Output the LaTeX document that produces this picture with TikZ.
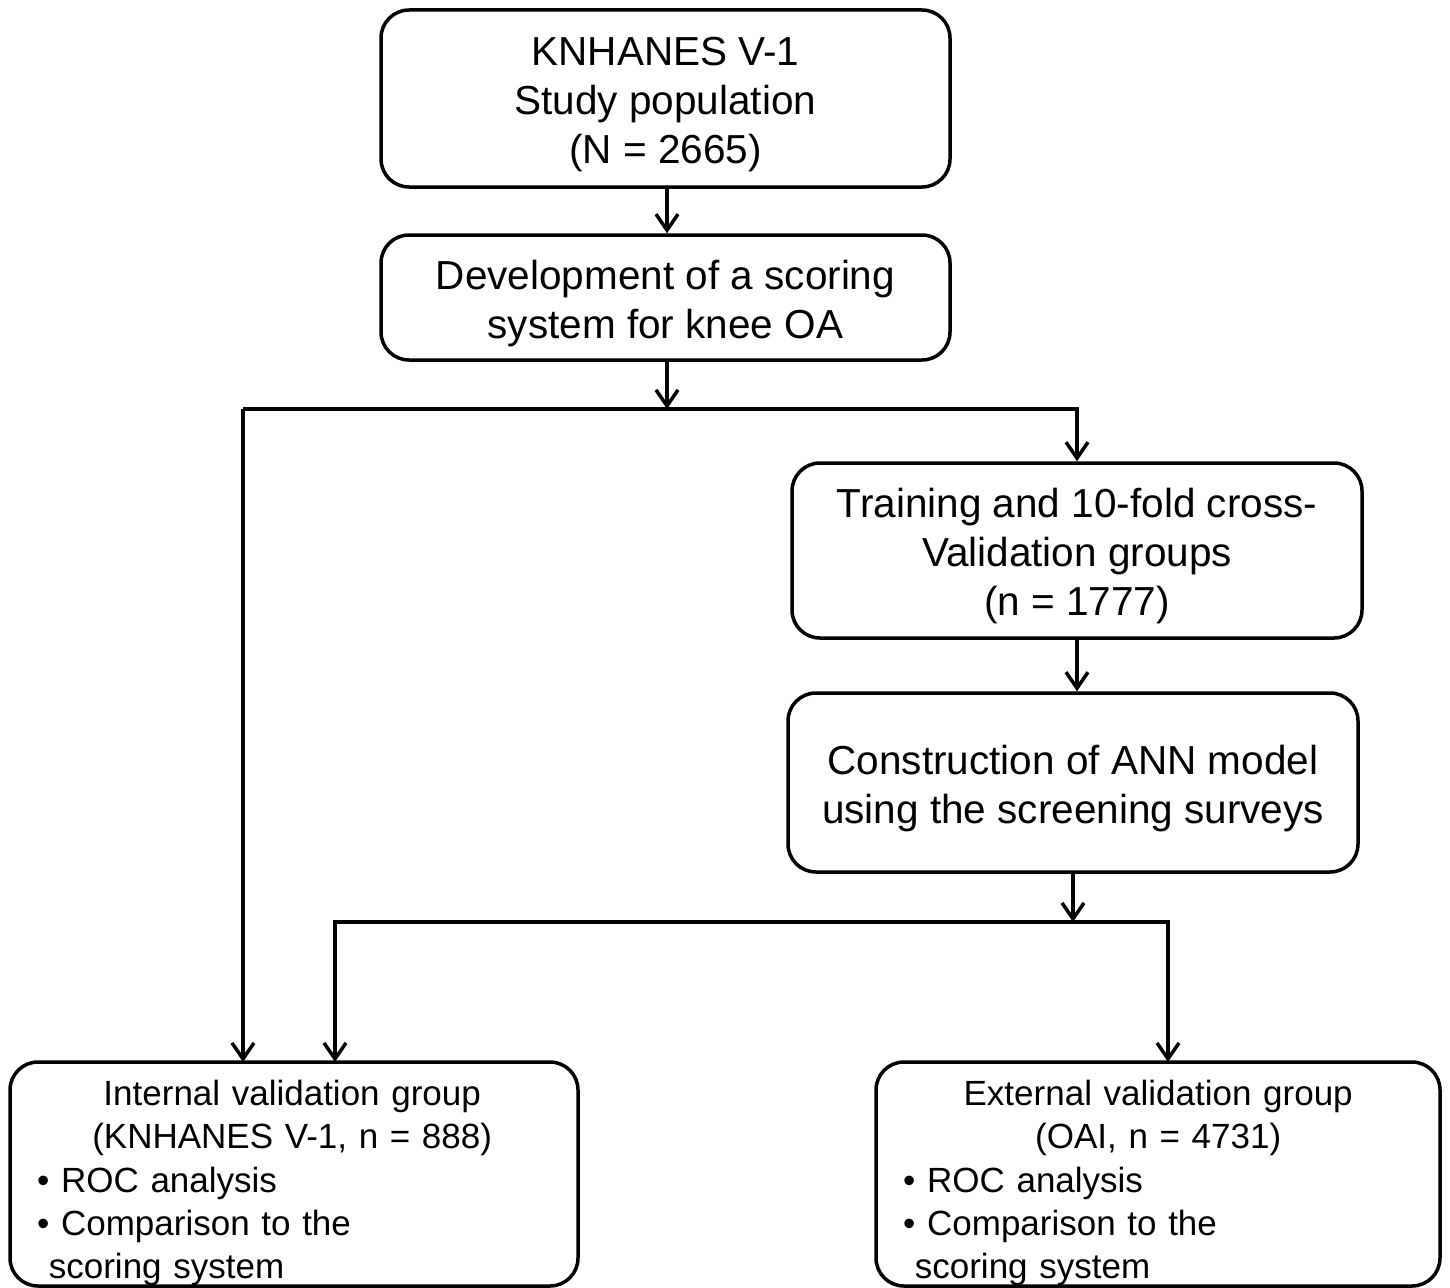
\documentclass[tikz,border=0pt]{standalone}
\usepackage{fontspec}
\setmainfont{Liberation Sans}
\usetikzlibrary{arrows.meta}
\begin{document}
\begin{tikzpicture}[x=1pt,y=-1pt,
  box/.style={draw, line width=3.5pt, rounded corners=28pt, inner sep=0pt},
  ttext/.style={inner sep=0pt, align=center, yshift=-6pt,
    font=\fontsize{40.5}{49}\selectfont},
  btext/.style={font=\fontsize{35}{43.3}\selectfont, anchor=north west, inner sep=0pt,
    text width=510pt, align=left},
  arr/.style={line width=3.5pt, -{Straight Barb[length=16pt,width=22pt,line width=3.5pt]}},
  ln/.style={line width=3.5pt}]
\useasboundingbox (0,0) rectangle (1450,1287);
\node[box, minimum width=569pt, minimum height=177pt] (b1) at (665.5,98.5) {};
\node[ttext] (b1t) at (b1.center) {KNHANES V-1\\Study population\\(N = 2665)};
\node[box, minimum width=569pt, minimum height=125pt] (b2) at (665.5,297.5) {};
\node[ttext] (b2t) at (b2.center) {Development of a scoring\\system for knee OA};
\node[box, minimum width=570pt, minimum height=175pt] (b3) at (1077,550.5) {};
\node[ttext] (b3t) at (b3.center) {Training and 10-fold cross-\\Validation groups\\(n = 1777)};
\node[box, minimum width=570pt, minimum height=179pt] (b4) at (1073,782.5) {};
\node[ttext] (b4t) at (b4.center) {Construction of ANN model\\using the screening surveys};
\node[box, minimum width=568pt, minimum height=224pt] (b5) at (294,1174) {};
\node[box, minimum width=564pt, minimum height=224pt] (b6) at (1158,1174) {};
\node[btext] (t5) at (37,1080)
  {\makebox[\linewidth][c]{Internal validation group}\\
   \makebox[\linewidth][c]{(KNHANES V-1, n = 888)}\\
   • ROC analysis\\
   • Comparison to the\\
   \ scoring system};
\node[btext] (t6) at (903,1080)
  {\makebox[\linewidth][c]{External validation group}\\
   \makebox[\linewidth][c]{(OAI, n = 4731)}\\
   • ROC analysis\\
   • Comparison to the\\
   \ scoring system};
\coordinate (j1) at (667,409);
\coordinate (j2) at (1073,922);
\coordinate (e1) at (243,1062);
\coordinate (e2) at (335,1062);
\coordinate (e3) at (1168,1062);
\coordinate (h1) at (243,409);
\draw[arr] (b1.south -| j1) -- (b2.north -| j1);
\draw[arr] (b2.south -| j1) -- (j1);
\draw[ln] (j1) -- (h1);
\draw[arr] (h1) -- (e1);
\draw[arr] (j1) -| (b3.north);
\draw[arr] (b3.south) -- (b3.south |- b4.north);
\draw[arr] (b4.south) -- (j2);
\draw[arr] (j2) -| (e2);
\draw[arr] (j2) -| (e3);
\end{tikzpicture}
\end{document}
